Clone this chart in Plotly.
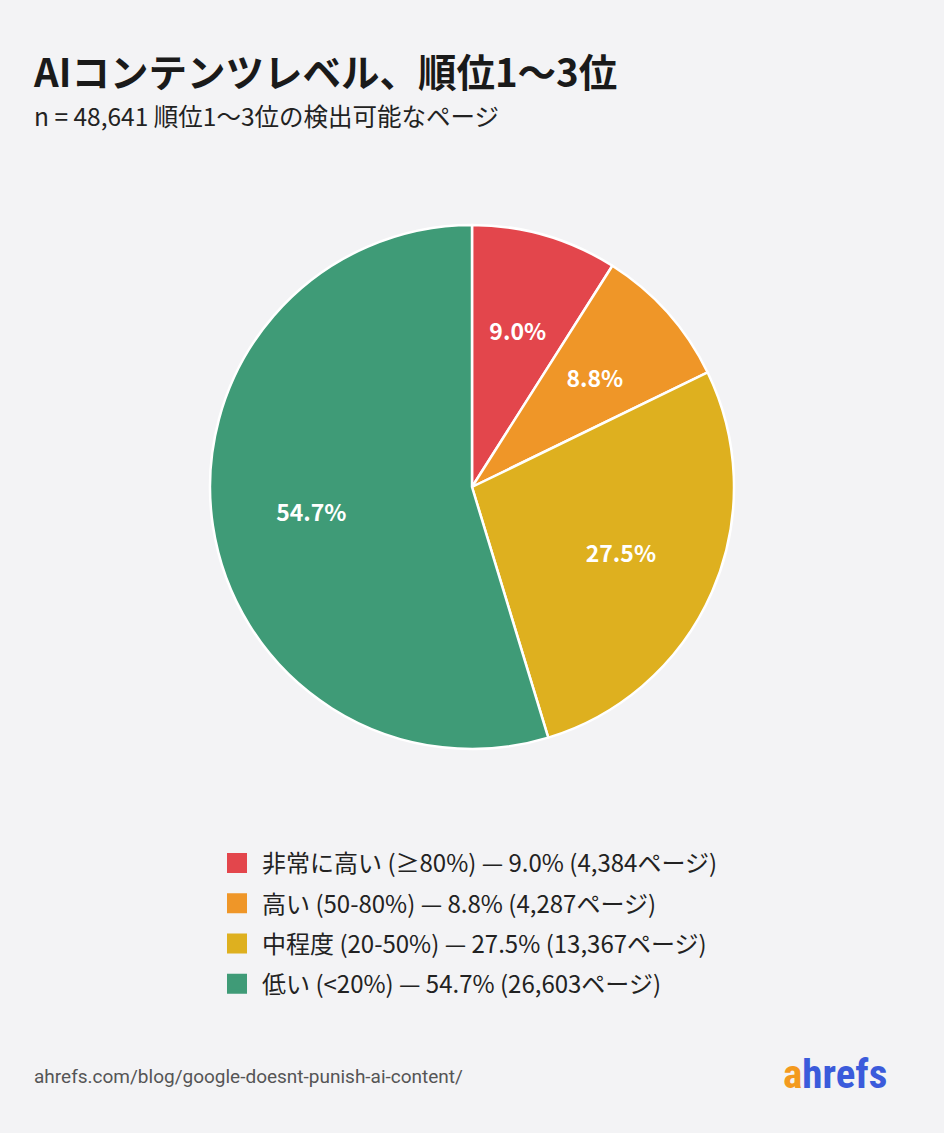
import plotly.graph_objects as go

# データ
levels = ["非常に高い (≥80%)", "高い (50-80%)", "中程度 (20-50%)", "低い (<20%)"]
shares = [9.0, 8.8, 27.5, 54.7]
pages = [4384, 4287, 13367, 26603]
colors = ["#E3464C", "#EF9628", "#DEB01F", "#3F9B77"]

total_pages = 48641
title = "AIコンテンツレベル、順位1〜3位"
subtitle = f"n = {total_pages:,} 順位1〜3位の検出可能なページ"
source = "ahrefs.com/blog/google-doesnt-punish-ai-content/"

legend_names = [f"{lv} — {s:.1f}% ({p:,}ページ)" for lv, s, p in zip(levels, shares, pages)]
pct_text = [f"{s:.1f}%" for s in shares]
small = [s < 15 for s in shares]

cy, r = 487, 262
pie_domain = dict(x=[0, 1], y=[1 - (cy + r) / 1133, 1 - (cy - r) / 1133])
r_small = r * 0.8
small_domain = dict(x=[0, 1], y=[1 - (cy + r_small) / 1133, 1 - (cy - r_small) / 1133])

label_font = dict(family="Noto Sans CJK JP", size=23, color="white", weight="bold")

fig = go.Figure()
# 扇形
fig.add_trace(go.Pie(
    labels=levels,
    values=shares,
    textinfo="none",
    marker=dict(colors=colors, line=dict(color="white", width=2.5)),
    sort=False,
    direction="clockwise",
    rotation=0,
    showlegend=False,
    hoverinfo="label+percent",
    domain=pie_domain,
))
# ラベル用の透明なドーナツ: 大きい扇形
fig.add_trace(go.Pie(
    labels=levels,
    values=shares,
    text=["" if sm else t for t, sm in zip(pct_text, small)],
    textinfo="text",
    textposition="inside",
    insidetextorientation="horizontal",
    textfont=label_font,
    marker=dict(colors=["rgba(0,0,0,0)"] * 4, line=dict(width=0)),
    hole=0.24,
    sort=False,
    direction="clockwise",
    showlegend=False,
    hoverinfo="skip",
    domain=pie_domain,
))
# ラベル用の透明な円: 小さい扇形 (少し内側へ)
fig.add_trace(go.Pie(
    labels=levels,
    values=shares,
    text=[t if sm else "" for t, sm in zip(pct_text, small)],
    textinfo="text",
    textposition="inside",
    insidetextorientation="horizontal",
    textfont=label_font,
    marker=dict(colors=["rgba(0,0,0,0)"] * 4, line=dict(width=0)),
    sort=False,
    direction="clockwise",
    showlegend=False,
    hoverinfo="skip",
    domain=small_domain,
))

# 凡例 (四角マーカー)
for i, (name, c) in enumerate(zip(legend_names, colors)):
    fig.add_trace(go.Scatter(
        x=[None], y=[None], mode="markers", name=name,
        marker=dict(symbol="square", size=16, color=c, line=dict(color=c, width=4)),
        legendgroup=f"g{i}", showlegend=True, hoverinfo="skip",
    ))

fig.update_layout(
    width=944,
    height=1133,
    margin=dict(l=0, r=0, t=0, b=0),
    paper_bgcolor="#F3F3F5",
    plot_bgcolor="#F3F3F5",
    font=dict(family="Noto Sans CJK JP", color="#222222"),
    xaxis=dict(visible=False),
    yaxis=dict(visible=False),
    showlegend=True,
    legend=dict(
        x=212 / 944, y=1 - 841 / 1133,
        xanchor="left", yanchor="top",
        font=dict(size=24, color="#222222"),
        itemsizing="trace",
        itemwidth=40,
        tracegroupgap=6,
        bgcolor="rgba(0,0,0,0)",
    ),
    annotations=[
        dict(text=f"<b>{title}</b>", x=31 / 944, y=1 - 70 / 1133, xref="paper", yref="paper",
             xanchor="left", yanchor="middle", showarrow=False,
             font=dict(size=38.5, color="#1A1A1A")),
        dict(text=subtitle, x=32 / 944, y=1 - 115 / 1133, xref="paper", yref="paper",
             xanchor="left", yanchor="middle", showarrow=False,
             font=dict(size=24.5, color="#222222")),
        dict(text=source, x=32 / 944, y=1 - 1076 / 1133, xref="paper", yref="paper",
             xanchor="left", yanchor="middle", showarrow=False,
             font=dict(family="Roboto", size=19, color="#555555")),
        dict(text="<b><span style='color:#F39A1E'>a</span><span style='color:#3B5BDB'>hrefs</span></b>",
             x=889 / 944, y=1 - 1074 / 1133, xref="paper", yref="paper",
             xanchor="right", yanchor="middle", showarrow=False,
             font=dict(family="Roboto Condensed, Roboto", size=41)),
    ],
)

fig.write_html("out.html", config={"displayModeBar": False},
               post_script="document.body.style.margin='0';")
